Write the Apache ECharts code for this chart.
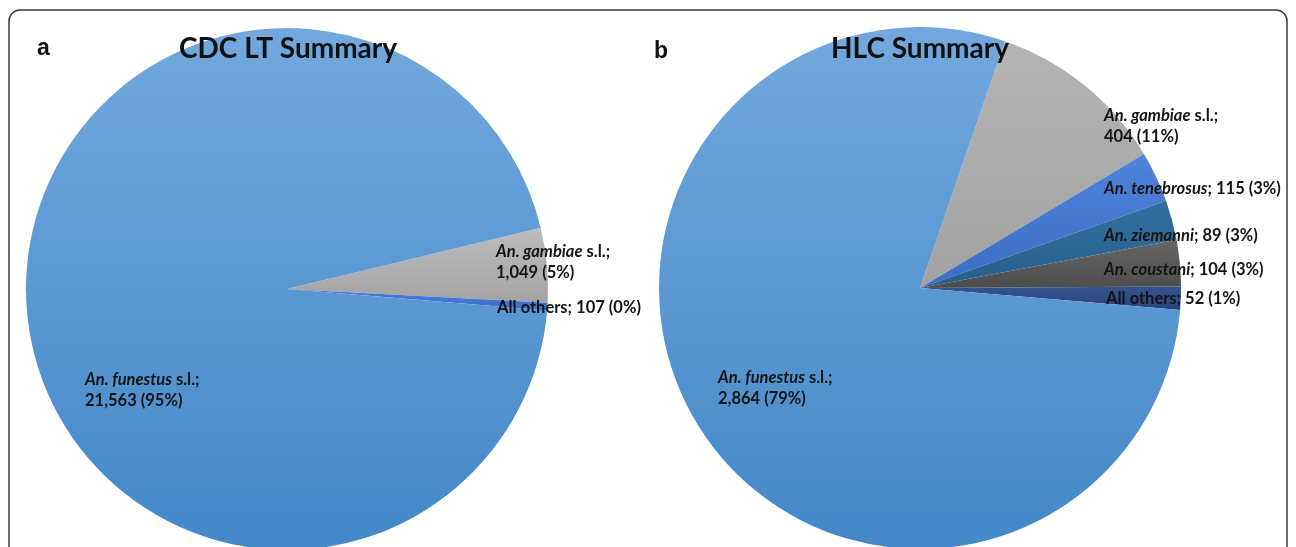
<!DOCTYPE html>
<html>
<head>
<meta charset="utf-8">
<script src="https://cdn.jsdelivr.net/npm/echarts@6/dist/echarts.min.js"></script>
<style>
  html, body { margin: 0; padding: 0; background: #ffffff; }
  #chart { width: 1296px; height: 547px; }
</style>
</head>
<body>
<div id="chart"></div>
<script>
// Panel a: CDC light trap catches
const namesA = ['An. gambiae s.l.', 'All others', 'An. funestus s.l.'];
const valuesA = [1049, 107, 21563];

// Panel b: human landing catches
const namesB = ['An. gambiae s.l.', 'An. tenebrosus', 'An. ziemanni', 'An. coustani', 'All others', 'An. funestus s.l.'];
const valuesB = [404, 115, 89, 104, 52, 2864];

const panelLetters = ['a', 'b'];
const panelTitles = ['CDC LT Summary', 'HLC Summary'];

// Label placement: offset of the label's top-left corner from the pie centre (px)
const labelOffsetA = [[209, -48], [210, 8], [-202, 80]];
const labelOffsetB = [[184, -183], [184, -110], [184, -63], [184, -29], [186, 0], [-202, 79]];
// Which labels put the count on a second line
const twoLineA = [true, false, true];
const twoLineB = [true, false, false, false, false, true];

function grad(top, bottom) {
  return new echarts.graphic.LinearGradient(0, 0, 0, 1, [
    { offset: 0, color: top }, { offset: 1, color: bottom }
  ]);
}
const funestusFill = grad('#72a8dd', '#4388c8');
const colorsA = [grad('#bdbdbd', '#a3a3a3'), grad('#4a7ee0', '#3a6cc8'), funestusFill];
const colorsB = [
  grad('#b4b4b4', '#a2a2a2'),
  grad('#4f84dc', '#3c6cc4'),
  grad('#33709f', '#285f8c'),
  grad('#666666', '#4e4e4e'),
  grad('#34538f', '#2a447a'),
  funestusFill
];

const fmtNum = v => v.toLocaleString('en-US');

function makeLabel(twoLine) {
  return function (p) {
    const name = p.name;
    const count = fmtNum(p.value) + ' (' + Math.round(p.percent) + '%)';
    let head;
    if (name.startsWith('An. ')) {
      const sl = name.endsWith(' s.l.');
      const sp = sl ? name.slice(0, -5) : name;
      head = '{i|' + sp + '}' + (sl ? '{b| s.l.;}' : '{b|;}');
    } else {
      head = '{b|' + name + ';}';
    }
    return twoLine[p.dataIndex] ? head + '\n{b|' + count + '}' : head + '{b| ' + count + '}';
  };
}

const labelRich = {
  i: { fontFamily: 'Lato', fontWeight: 'bold', fontStyle: 'italic', fontSize: 16.5, color: '#141414', lineHeight: 21 },
  b: { fontFamily: 'Lato', fontWeight: 'bold', fontSize: 16.5, color: '#141414', lineHeight: 21 }
};

const centers = [[287, 289], [920, 288]];
const radius = 261;

function pieSeries(idx, names, values, colors, startAngle, offsets, twoLine) {
  const c = centers[idx];
  return {
    type: 'pie',
    center: c,
    radius: radius,
    startAngle: startAngle,
    clockwise: true,
    percentPrecision: 0,
    silent: true,
    animation: false,
    itemStyle: { borderWidth: 0 },
    data: names.map((n, i) => ({ name: n, value: values[i], itemStyle: { color: colors[i] } })),
    label: {
      show: true,
      position: 'inside',
      formatter: makeLabel(twoLine),
      rich: labelRich
    },
    labelLine: { show: false },
    labelLayout: function (p) {
      const o = offsets[p.dataIndex];
      return { x: c[0] + o[0], y: c[1] + o[1], align: 'left', verticalAlign: 'top' };
    }
  };
}

const titleStyle = { fontFamily: 'Lato', fontWeight: 'bold', fontSize: 28, color: '#111' };
const letterStyle = { fontFamily: 'Liberation Sans', fontWeight: 'bold', fontSize: 23, color: '#111' };

const chart = echarts.init(document.getElementById('chart'), null, { renderer: 'canvas' });
chart.setOption({
  backgroundColor: '#ffffff',
  title: [
    { text: panelTitles[0], left: 283, top: 30, textAlign: 'center', textStyle: titleStyle },
    { text: panelTitles[1], left: 915, top: 30, textAlign: 'center', textStyle: titleStyle },
    { text: panelLetters[0], left: 32, top: 32, textStyle: letterStyle },
    { text: panelLetters[1], left: 649, top: 35, textStyle: letterStyle }
  ],
  graphic: [{
    type: 'rect',
    z: 100,
    shape: { x: 9, y: 10, width: 1278, height: 600, r: 11 },
    style: { fill: 'none', stroke: '#3a3a3a', lineWidth: 1.5 }
  }],
  series: [
    pieSeries(0, namesA, valuesA, colorsA, 13.6, labelOffsetA, twoLineA),
    pieSeries(1, namesB, valuesB, colorsB, 71, labelOffsetB, twoLineB)
  ]
});
</script>
</body>
</html>
